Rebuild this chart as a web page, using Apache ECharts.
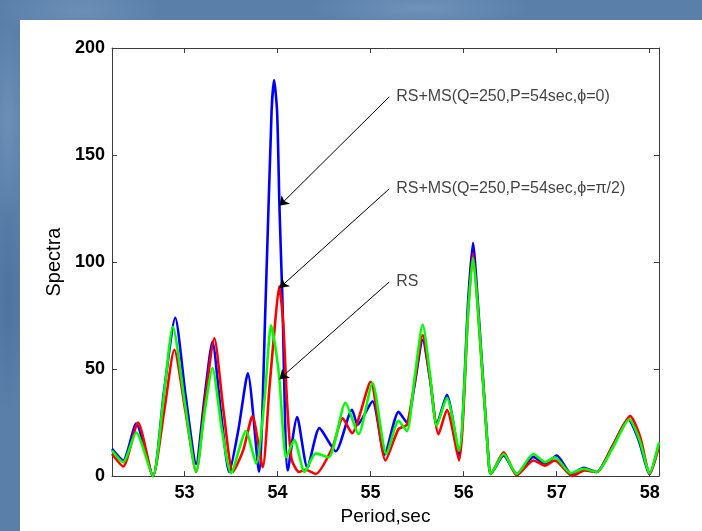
<!DOCTYPE html>
<html>
<head>
<meta charset="utf-8">
<script src="https://cdn.jsdelivr.net/npm/echarts@6/dist/echarts.min.js"></script>
<style>
  html, body { margin: 0; padding: 0; }
  body {
    width: 702px; height: 531px; overflow: hidden; position: relative;
    background-color: #5a80aa;
    background-image:
      radial-gradient(ellipse 120px 40px at 80px 10px, rgba(140,170,205,0.35), rgba(140,170,205,0) 70%),
      radial-gradient(ellipse 160px 30px at 420px 8px, rgba(150,180,215,0.35), rgba(150,180,215,0) 70%),
      radial-gradient(ellipse 30px 160px at 8px 300px, rgba(60,95,140,0.4), rgba(60,95,140,0) 70%),
      radial-gradient(ellipse 30px 140px at 8px 120px, rgba(140,170,205,0.35), rgba(140,170,205,0) 70%);
  }
  #panel { position: absolute; left: 20px; top: 20px; right: 0; bottom: 0; background: #ffffff; }
  #chart { position: absolute; left: 0; top: 0; width: 702px; height: 531px; }
</style>
</head>
<body>
<div id="panel"></div>
<div id="chart"></div>
<script>
// Spectra around the 54 s period: RS alone and RS+MS for two phases
const periodTicks = [53, 54, 55, 56, 57, 58];
const spectraTicks = [0, 50, 100, 150, 200];

// RS+MS (Q=250, P=54 sec, phi=0) — blue
const phi0Period = [52.22, 52.34, 52.48, 52.66, 52.78, 52.90, 53.01, 53.125, 53.21, 53.30, 53.39, 53.48, 53.58, 53.68, 53.80, 53.87, 53.935, 53.963, 53.995, 54.02, 54.05, 54.11, 54.21, 54.32, 54.45, 54.625, 54.80, 54.86, 55.02, 55.15, 55.30, 55.39, 55.47, 55.56, 55.64, 55.71, 55.82, 55.95, 56.05, 56.10, 56.15, 56.27, 56.29, 56.43, 56.57, 56.75, 56.875, 57.00, 57.16, 57.29, 57.43, 57.60, 57.77, 57.88, 58.00, 58.10];
const phi0Spectra = [12.7, 7.3, 24.5, 0, 40, 74, 38, 5.7, 35, 62.8, 30, 1.9, 22, 48, 2, 80, 170, 185, 170, 126, 85, 2.6, 27.6, 3.9, 22.4, 11.6, 31, 24, 35, 10, 30, 25, 42, 63.6, 45, 24.2, 38, 9.6, 83, 109, 83, 6, 1, 9.6, 1, 9, 5.7, 9.6, 1, 3.9, 1.9, 14, 26.5, 17, 1, 15];

// RS+MS (Q=250, P=54 sec, phi=pi/2) — red
const phiHalfPiPeriod = [52.22, 52.34, 52.50, 52.66, 52.78, 52.89, 53.01, 53.125, 53.22, 53.32, 53.42, 53.52, 53.63, 53.73, 53.84, 53.91, 53.97, 54.017, 54.06, 54.10, 54.15, 54.23, 54.30, 54.41, 54.59, 54.70, 54.80, 55.00, 55.16, 55.30, 55.39, 55.47, 55.56, 55.64, 55.73, 55.82, 55.95, 56.05, 56.10, 56.15, 56.27, 56.29, 56.43, 56.57, 56.75, 56.875, 56.98, 57.17, 57.30, 57.43, 57.60, 57.79, 57.90, 58.00, 58.10];
const phiHalfPiSpectra = [10.3, 4.5, 25, 0, 30, 59, 30, 1.9, 35, 64.4, 30, 1.9, 12, 28, 4.2, 40, 70, 88.7, 72, 36, 8, 1.9, 3, 1, 13.4, 27, 20, 44, 7.3, 22, 24, 43, 65.9, 45, 19.6, 31, 7.3, 78, 104, 80, 6, 1, 11.1, 0.3, 7.3, 4.9, 7.3, 0, 2.6, 1.9, 14, 28, 18, 1, 14];

// RS — green
const rsPeriod = [52.22, 52.34, 52.48, 52.66, 52.77, 52.875, 53.00, 53.125, 53.21, 53.30, 53.40, 53.50, 53.66, 53.77, 53.86, 53.93, 53.97, 54.02, 54.06, 54.09, 54.18, 54.29, 54.41, 54.55, 54.73, 54.87, 55.02, 55.17, 55.30, 55.39, 55.47, 55.56, 55.64, 55.71, 55.82, 55.95, 56.05, 56.10, 56.15, 56.27, 56.29, 56.43, 56.57, 56.75, 56.875, 56.98, 57.15, 57.29, 57.43, 57.60, 57.78, 57.89, 58.00, 58.10];
const rsSpectra = [11.9, 6.5, 20.4, 0, 35, 69.8, 35, 1.9, 28, 50.5, 22, 1.4, 21, 5.7, 36, 70.5, 62, 45, 20, 8.8, 16.8, 1.9, 10.6, 8.8, 34.3, 19.6, 43.5, 10.3, 25.8, 21, 45, 70.8, 47, 23.5, 36.6, 11.9, 78, 102, 80, 6, 1, 10.3, 1, 10.3, 6.5, 8.8, 1.4, 3.4, 1.9, 13, 26.5, 17, 1.4, 15.7];

// Annotations: label text, arrow tail (at the label) and arrow head (on the curve)
const noteText = ['RS+MS(Q=250,P=54sec,\u03D5=0)', 'RS+MS(Q=250,P=54sec,\u03D5=\u03C0/2)', 'RS'];
const noteTailPeriod = [55.2, 55.2, 55.2];
const noteTailSpectra = [177.2, 134.2, 90.7];
const noteHeadPeriod = [54.02, 54.02, 54.02];
const noteHeadSpectra = [126.3, 87.9, 45.3];

const pairs = (xs, ys) => xs.map((x, i) => [x, ys[i]]);
const axisColor = '#3c3c3c';
const fontFamily = '"Liberation Sans", Arial, sans-serif';

const chart = echarts.init(document.getElementById('chart'), null, { renderer: 'canvas' });

const xCommon = {
  type: 'value', min: 52.22, max: 58.1,
  axisLine: { show: true, onZero: false, lineStyle: { color: axisColor, width: 1 } },
  axisTick: { show: true, inside: true, length: 5, customValues: periodTicks, lineStyle: { color: axisColor } },
  splitLine: { show: false }
};
const yCommon = {
  type: 'value', min: 0, max: 200, interval: 50,
  axisLine: { show: true, onZero: false, lineStyle: { color: axisColor, width: 1 } },
  axisTick: { show: true, inside: true, length: 5, lineStyle: { color: axisColor } },
  splitLine: { show: false }
};

function curve(name, color, xs, ys) {
  return {
    name, type: 'line', data: pairs(xs, ys), symbol: 'none', showSymbol: false,
    smooth: 0.22,
    lineStyle: { color, width: 2.6 }, itemStyle: { color }, clip: true, animation: false
  };
}

chart.setOption({
  animation: false,
  backgroundColor: 'transparent',
  grid: { left: 112, top: 48, right: 43, bottom: 51 },
  xAxis: [
    Object.assign({}, xCommon, {
      position: 'bottom',
      name: 'Period,sec', nameLocation: 'middle', nameGap: 27,
      nameTextStyle: { fontSize: 19, color: '#000', fontFamily },
      axisLabel: { customValues: periodTicks, fontSize: 18, fontWeight: 'bold', color: '#000', margin: 8, fontFamily }
    }),
    Object.assign({}, xCommon, { position: 'top', axisLabel: { show: false } })
  ],
  yAxis: [
    Object.assign({}, yCommon, {
      position: 'left',
      name: 'Spectra', nameLocation: 'middle', nameGap: 46,
      nameTextStyle: { fontSize: 20, color: '#000', fontFamily },
      axisLabel: { fontSize: 18, fontWeight: 'bold', color: '#000', margin: 7, fontFamily,
        customValues: spectraTicks }
    }),
    Object.assign({}, yCommon, { position: 'right', axisLabel: { show: false } })
  ],
  series: [
    curve('RS+MS phi=0', '#0000ff', phi0Period, phi0Spectra),
    curve('RS+MS phi=pi/2', '#ff0000', phiHalfPiPeriod, phiHalfPiSpectra),
    curve('RS', '#00ff00', rsPeriod, rsSpectra),
    {
      name: 'notes', type: 'scatter', symbolSize: 0, silent: true, animation: false,
      data: noteText.map((t, i) => ({ name: t, value: [noteTailPeriod[i], noteTailSpectra[i]] })),
      label: {
        show: true, position: 'right', distance: 7, formatter: p => p.name,
        fontSize: 16, color: '#111', fontFamily
      },
      markLine: {
        silent: true, animation: false,
        symbol: ['none', 'arrow'], symbolSize: 9,
        lineStyle: { color: '#000', width: 1, type: 'solid' },
        label: { show: false },
        emphasis: { disabled: true },
        data: noteText.map((t, i) => [
          { coord: [noteTailPeriod[i], noteTailSpectra[i]] },
          { coord: [noteHeadPeriod[i], noteHeadSpectra[i]] }
        ])
      }
    }
  ]
});
</script>
</body>
</html>
